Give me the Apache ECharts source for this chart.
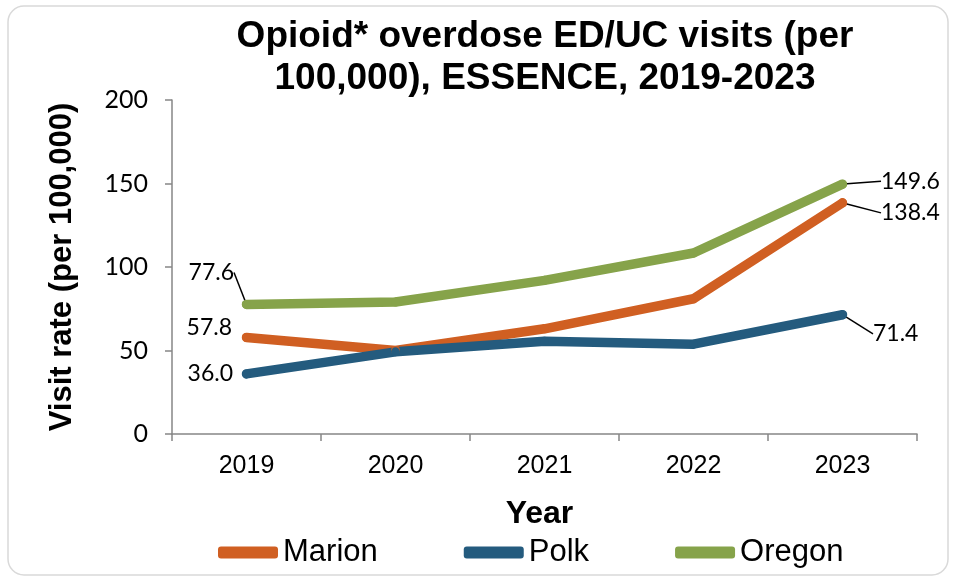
<!DOCTYPE html>
<html>
<head>
<meta charset="utf-8">
<script src="https://cdn.jsdelivr.net/npm/echarts@6/dist/echarts.min.js"></script>
<style>
html,body{margin:0;padding:0;background:#fff;}
#chart{width:956px;height:579px;}
</style>
</head>
<body>
<div id="chart"></div>
<script>
const categories = ['2019', '2020', '2021', '2022', '2023'];
const seriesNames = ['Marion', 'Polk', 'Oregon'];
const marion = [57.8, 50.0, 63.0, 81.0, 138.4];
const polk = [36.0, 49.2, 55.6, 53.8, 71.4];
const oregon = [77.6, 79.0, 92.0, 108.4, 149.6];
const yTicks = [0, 50, 100, 150, 200];
const colors = ['#D05F22', '#245B7E', '#86A34A'];

// label placement per series: [first point, last point]
const labelCfg = [
  { first: { pos: 'left', dx: -4, dy: -10, line: false }, last: { pos: 'right', dx: 28, dy: 10, line: true } },
  { first: { pos: 'left', dx: -3, dy: 0, line: false }, last: { pos: 'right', dx: 20, dy: 19, line: true } },
  { first: { pos: 'left', dx: -2, dy: -32, line: true }, last: { pos: 'right', dx: 28, dy: -3, line: true } }
];

function buildData(values, si) {
  return values.map((v, i) => {
    const item = { value: v };
    let cfg = null;
    if (i === 0) cfg = labelCfg[si].first;
    if (i === values.length - 1) cfg = labelCfg[si].last;
    if (cfg) {
      item.label = { show: true, position: cfg.pos, distance: 6 };
      item.labelLine = { show: cfg.line };
    }
    return item;
  });
}

const allValues = [marion, polk, oregon];
const chart = echarts.init(document.getElementById('chart'));
const option = {
  animation: false,
  backgroundColor: '#ffffff',
  graphic: [{
    type: 'rect', z: -1,
    shape: { x: 8, y: 6, width: 940, height: 569, r: 16 },
    style: { fill: 'none', stroke: '#d9d9d9', lineWidth: 1.5 }
  }],
  title: {
    text: 'Opioid* overdose ED/UC visits (per\n100,000), ESSENCE, 2019-2023',
    left: 540, top: 11, textAlign: 'center',
    textStyle: { fontFamily: 'Liberation Sans', fontWeight: 'bold', fontSize: 37, lineHeight: 42, color: '#000' }
  },
  legend: {
    left: 213, top: 532,
    itemWidth: 60, itemHeight: 12, itemGap: 86,
    icon: 'roundRect',
    textStyle: { fontFamily: 'Liberation Sans', fontSize: 31, color: '#000' },
    data: seriesNames
  },
  grid: { left: 172, right: 39, top: 100, bottom: 145, containLabel: false },
  xAxis: {
    type: 'category', data: categories, boundaryGap: true,
    name: 'Year', nameLocation: 'middle', nameGap: 64,
    nameTextStyle: { fontFamily: 'Liberation Sans', fontWeight: 'bold', fontSize: 32, color: '#000', padding: [0, 10, 0, 0] },
    axisLine: { lineStyle: { color: '#868686', width: 1.5 } },
    axisTick: { show: true, length: 7, lineStyle: { color: '#868686', width: 1.5 } },
    axisLabel: { fontFamily: 'Liberation Sans', fontSize: 25, color: '#000', margin: 20 }
  },
  yAxis: {
    type: 'value', min: yTicks[0], max: yTicks[yTicks.length - 1], interval: yTicks[1] - yTicks[0],
    name: 'Visit rate (per 100,000)', nameLocation: 'middle', nameGap: 94,
    nameTextStyle: { fontFamily: 'Liberation Sans', fontWeight: 'bold', fontSize: 31, color: '#000' },
    axisLine: { show: true, lineStyle: { color: '#868686', width: 1.5 } },
    axisTick: { show: true, length: 7, lineStyle: { color: '#868686', width: 1.5 } },
    splitLine: { show: false },
    axisLabel: { fontFamily: 'Lato', fontSize: 25, color: '#000', margin: 24 }
  },
  series: allValues.map((vals, si) => ({
    name: seriesNames[si],
    type: 'line',
    data: buildData(vals, si),
    color: colors[si],
    symbol: 'circle', symbolSize: 9, showSymbol: true,
    lineStyle: { width: 9.5, cap: 'round', join: 'round', color: colors[si] },
    itemStyle: { color: colors[si] },
    label: { show: false, fontFamily: 'Lato', fontSize: 23, color: '#000', formatter: p => p.value.toFixed(1) },
    labelLine: { show: false, lineStyle: { color: '#000', width: 1.5 } },
    labelLayout: function (p) {
      const n = vals.length;
      let cfg = null;
      if (p.dataIndex === 0) cfg = labelCfg[si].first;
      if (p.dataIndex === n - 1) cfg = labelCfg[si].last;
      if (!cfg) return {};
      return { dx: cfg.dx, dy: cfg.dy };
    },
    emphasis: { disabled: true }
  }))
};
chart.setOption(option);
</script>
</body>
</html>
